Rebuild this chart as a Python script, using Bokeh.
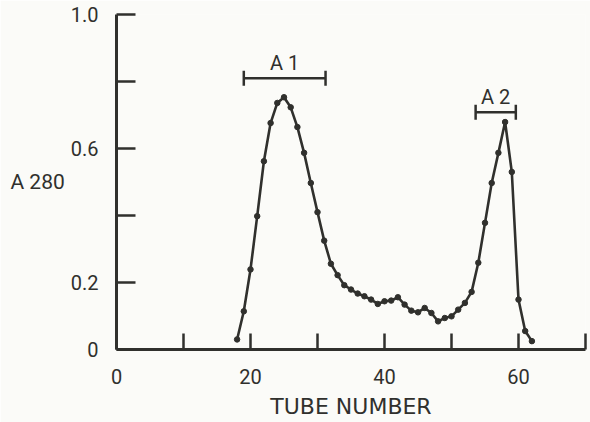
from bokeh.plotting import figure
from bokeh.models import (FixedTicker, CustomJSTickFormatter, Whisker,
                          ColumnDataSource, TeeHead)
from bokeh.embed import file_html
from bokeh.resources import INLINE
from bokeh.core.properties import value

# ---- data ----
tubes = list(range(18, 63))
a280 = [0.030, 0.114, 0.239, 0.398, 0.562, 0.676, 0.736, 0.753, 0.723, 0.664,
        0.587, 0.497, 0.410, 0.325, 0.256, 0.222, 0.192, 0.179, 0.167, 0.159,
        0.149, 0.136, 0.144, 0.146, 0.156,
        0.134, 0.116, 0.111, 0.124, 0.109, 0.084, 0.094, 0.099, 0.119, 0.139,
        0.172, 0.259, 0.378, 0.497, 0.587, 0.679, 0.530, 0.149, 0.055, 0.025]

x_ticks = [0, 10, 20, 30, 40, 50, 60, 70]
y_ticks = [0, 0.2, 0.4, 0.6, 0.8, 1.0]

fraction_names = ["A 1", "A 2"]
fraction_start = [19.0, 53.6]
fraction_end = [31.2, 59.6]
fraction_level = [0.81, 0.708]

x_title = "TUBE NUMBER"
y_title = "A 280"

INK = "#30302d"
BG = "#fbfbf8"
FONT = "Roboto"

p = figure(width=590, height=422, x_range=(0, 70), y_range=(0, 1.0),
           output_backend="svg", toolbar_location=None,
           min_border_left=116, min_border_right=5, min_border_top=14,
           min_border_bottom=73, background_fill_color=BG,
           border_fill_color=BG, outline_line_color=None)
p.grid.visible = False

for ax in (p.xaxis[0], p.yaxis[0]):
    ax.axis_line_color = INK
    ax.axis_line_width = 3
    ax.major_tick_line_color = INK
    ax.major_tick_line_width = 2.5
    ax.major_tick_out = 0
    ax.minor_tick_line_color = None
    ax.major_label_text_font = FONT
    ax.major_label_text_font_size = "20px"
    ax.major_label_text_color = INK
    ax.axis_label_text_color = INK
    ax.axis_label_text_font_style = "normal"

p.xaxis.ticker = FixedTicker(ticks=x_ticks)
p.yaxis.ticker = FixedTicker(ticks=y_ticks)
p.xaxis.major_tick_in = 16
p.yaxis.major_tick_in = 19
p.xaxis.major_label_standoff = 19
p.yaxis.major_label_standoff = 18
p.xaxis.formatter = CustomJSTickFormatter(
    code="return (Math.round(tick) % 20 == 0 && tick < 70) ? String(Math.round(tick)) : '';")
p.yaxis.formatter = CustomJSTickFormatter(
    code="if (Math.abs(tick) < 1e-6) return '0';"
         "if (Math.abs(tick-0.4) < 1e-6 || Math.abs(tick-0.8) < 1e-6) return '';"
         "return tick.toFixed(1);")

p.xaxis.axis_label = x_title
p.xaxis.axis_label_text_font = "DejaVu Sans"
p.xaxis.axis_label_text_font_size = "22px"
p.xaxis.axis_label_standoff = 7

p.yaxis.axis_label = y_title
p.yaxis.axis_label_orientation = "horizontal"
p.yaxis.axis_label_text_font = FONT
p.yaxis.axis_label_text_font_size = "21px"
p.yaxis.axis_label_standoff = 3

# curve and points
p.line(tubes, a280, line_color=INK, line_width=2.6, line_join="round")
p.scatter(tubes, a280, size=5.5, color=INK)

# fraction bars
src_f = ColumnDataSource(dict(lo=fraction_start, hi=fraction_end, y=fraction_level,
                              mid=[(a + b) / 2 for a, b in zip(fraction_start, fraction_end)],
                              name=fraction_names))
w = Whisker(source=src_f, base="y", lower="lo", upper="hi", dimension="width",
            line_color=INK, line_width=2.5,
            lower_head=TeeHead(size=15, line_color=INK, line_width=2.5),
            upper_head=TeeHead(size=15, line_color=INK, line_width=2.5))
p.add_layout(w)
p.text(x="mid", y="y", text="name", source=src_f, text_font=value(FONT),
       text_font_size="20px", text_color=INK,
       text_align="center", text_baseline="alphabetic", y_offset=-15)

open("out.html", "w").write(file_html(p, INLINE))
